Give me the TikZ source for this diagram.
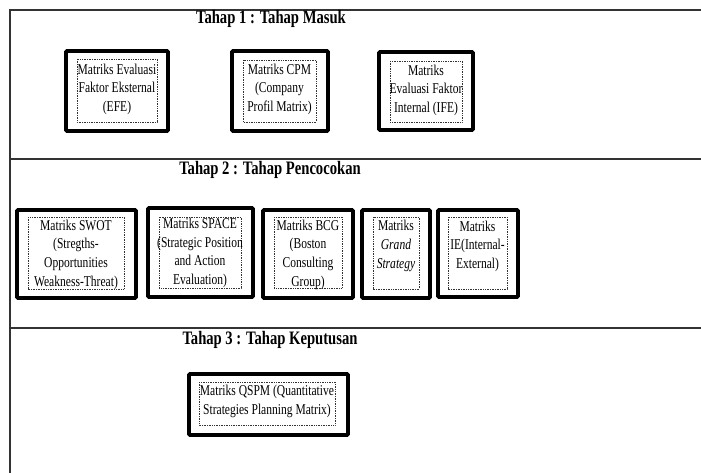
\documentclass[tikz,border=0pt]{standalone}
\usepackage{fontspec}
\setmainfont[FakeStretch=0.77]{Liberation Serif}
\begin{document}
\begin{tikzpicture}[x=1pt,y=-1pt,
  frameline/.style={line width=1.3pt, draw=black!80},
  outerbox/.style={draw=black, line width=3.6pt, rounded corners=1pt},
  innerbox/.style={draw=black!80, densely dotted, line width=0.7pt},
  label/.style={align=center, inner sep=0pt, font=\fontsize{15}{18.6}\selectfont},
  title/.style={inner sep=0pt, font=\fontsize{19}{22}\selectfont\bfseries}]
\useasboundingbox (0,0) rectangle (701,473);
% frame
\coordinate (fTL) at (10,10);
\coordinate (fTR) at (701,10);
\coordinate (fBL) at (10,473);
\coordinate (s2L) at (10,159);
\coordinate (s2R) at (701,159);
\coordinate (s3L) at (10,328);
\coordinate (s3R) at (701,328);
\draw[frameline] (fTR) -- (fTL) -- (fBL);
\draw[frameline] (s2L) -- (s2R);
\draw[frameline] (s3L) -- (s3R);
% titles
\node[title] (t1) at (271,19) {Tahap 1 : Tahap Masuk};
\node[title] (t2) at (270,170) {Tahap 2 : Tahap Pencocokan};
\node[title] (t3) at (270,340) {Tahap 3 : Tahap Keputusan};
% stage 1
\draw[outerbox] (66,51) rectangle (168,131);
\draw[innerbox] (77,59) rectangle (157,122);
\node[label] (efe) at (117,89) {Matriks Evaluasi\\Faktor Eksternal\\(EFE)};
\draw[outerbox] (232,51) rectangle (328,131);
\draw[innerbox] (243,60) rectangle (316,122);
\node[label] (cpm) at (279.5,89) {Matriks CPM\\(Company\\Profil Matrix)};
\draw[outerbox] (379,52) rectangle (473,130);
\draw[innerbox] (390,61) rectangle (462,122);
\node[label] (ife) at (426,90) {Matriks\\Evaluasi Faktor\\Internal (IFE)};
% stage 2
\draw[outerbox] (17,210) rectangle (136,298);
\draw[innerbox] (28,217) rectangle (124,289);
\node[label] (swot) at (76,254.5) {Matriks SWOT\\(Stregths-\\Opportunities\\Weakness-Threat)};
\draw[outerbox] (148,208) rectangle (253,297);
\draw[innerbox] (159,217) rectangle (241,288);
\node[label] (space) at (200,253) {Matriks SPACE\\(Strategic Position\\and Action\\Evaluation)};
\draw[outerbox] (263,210) rectangle (353,298);
\draw[innerbox] (274,217) rectangle (342,288);
\node[label] (bcg) at (308,254.5) {Matriks BCG\\(Boston\\Consulting\\Group)};
\draw[outerbox] (362,210) rectangle (430,298);
\draw[innerbox] (373,217) rectangle (419,289);
\node[label] (grand) at (396,246) {Matriks\\\textit{Grand}\\\textit{Strategy}};
\draw[outerbox] (438,210) rectangle (518,297);
\draw[innerbox] (448,217) rectangle (507,289);
\node[label] (ie) at (477.5,246) {Matriks\\IE(Internal-\\External)};
% stage 3
\draw[outerbox] (189,374) rectangle (348,435);
\draw[innerbox] (199,382) rectangle (335,425);
\node[label] (qspm) at (267,401.5) {Matriks QSPM (Quantitative\\Strategies Planning Matrix)};
\end{tikzpicture}
\end{document}
